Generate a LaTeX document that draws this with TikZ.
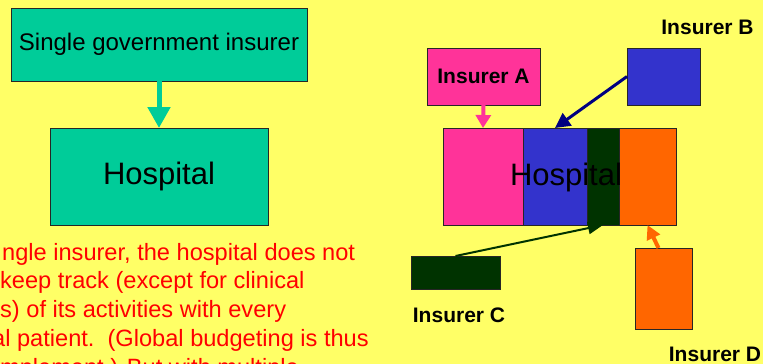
\documentclass[tikz,border=0pt]{standalone}
\usepackage{fontspec}
\setmainfont{Liberation Sans}
\usetikzlibrary{arrows.meta}
\definecolor{cbg}{RGB}{255,255,102}
\definecolor{cteal}{RGB}{0,204,153}
\definecolor{cpink}{RGB}{255,51,153}
\definecolor{cblue}{RGB}{51,51,204}
\definecolor{cdkgreen}{RGB}{0,51,0}
\definecolor{corange}{RGB}{255,102,0}
\definecolor{cnavy}{RGB}{0,0,128}
\begin{document}
\begin{tikzpicture}[x=1pt,y=-1pt,
  box/.style={draw=black!85, line width=0.8pt, inner sep=0pt, outer sep=0pt},
  bigtext/.style={font=\fontsize{31}{36}\selectfont},
  redtext/.style={anchor=base west, text=red, inner sep=0pt, font=\fontsize{23.6}{28}\selectfont},
  inslabel/.style={inner sep=0pt, font=\bfseries\fontsize{21}{25}\selectfont}]
\clip (0,0) rectangle (763,364);
\fill[cbg] (0,0) rectangle (763,364);
% left side
\node[box, fill=cteal, minimum width=296pt, minimum height=73pt, font=\fontsize{24}{28}\selectfont] (sgi) at (159,44.5) {Single government insurer};
\node[box, fill=cteal, minimum width=218pt, minimum height=97pt, bigtext] (hospL) at (159,176.5) {Hospital};
\draw[cteal, line width=5pt, -{Triangle[width=22pt,length=21pt]}] (sgi.south) -- (hospL.north);
\node[redtext] (t1) at (2,260) {ngle insurer, the hospital does not};
\node[redtext] (t2) at (0,288.5) {keep track (except for clinical};
\node[redtext] (t3) at (0,317) {s) of its activities with every};
\node[redtext] (t4) at (-8,346.5) {al patient.\ \ (Global budgeting is thus};
\node[redtext] (t5) at (0,375) {mplement.) But with multiple};
% right side
\node[box, fill=cpink, minimum width=80pt, minimum height=97pt] (hA) at (483,176.5) {};
\node[box, fill=cblue, minimum width=64pt, minimum height=97pt] (hB) at (555,176.5) {};
\node[box, fill=cdkgreen, minimum width=32pt, minimum height=97pt] (hC) at (603,176.5) {};
\node[box, fill=corange, minimum width=57pt, minimum height=97pt] (hD) at (647.5,176.5) {};
\node[bigtext, inner sep=0pt] (hospR) at (566,177) {Hospital};
\node[box, fill=cpink, minimum width=113pt, minimum height=57pt, inslabel] (insA) at (483.5,76.5) {Insurer A};
\node[box, fill=cblue, minimum width=73pt, minimum height=57pt] (insB) at (663.5,76.5) {};
\node[inslabel] (labB) at (707.5,27.5) {Insurer B};
\node[box, fill=cdkgreen, minimum width=89pt, minimum height=33pt] (insC) at (455.5,272.5) {};
\node[inslabel] (labC) at (459,315) {Insurer C};
\node[box, fill=corange, minimum width=57pt, minimum height=81pt] (insD) at (663.5,288.5) {};
\node[inslabel] (labD) at (715,354.5) {Insurer D};
\draw[cpink, line width=4pt, -{Triangle[width=15pt,length=13pt]}] (insA.south) -- (hA.north);
\draw[cnavy, line width=3pt, -{Triangle[width=15pt,length=15pt]}] (insB.west) -- (hB.north);
\draw[cdkgreen, line width=2pt, -{Triangle[width=12pt,length=15pt]}] (insC.north) -- (hC.south);
\draw[corange, line width=4pt, -{Triangle[width=14pt,length=14pt]}] ([xshift=-5pt]insD.north) -- (hD.south);
\end{tikzpicture}
\end{document}
